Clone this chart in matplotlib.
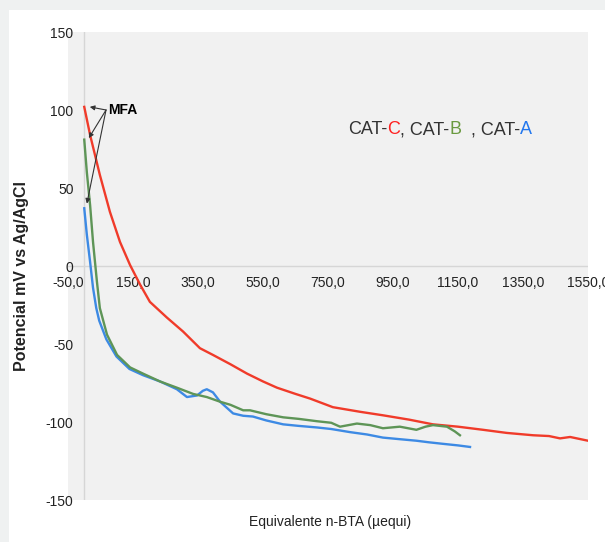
import numpy as np
import matplotlib.pyplot as plt
from matplotlib.patches import Rectangle
from matplotlib.offsetbox import TextArea, HPacker, AnnotationBbox

plt.rcParams['font.family'] = ['Liberation Sans', 'DejaVu Sans']

# CAT-C (red)
x_c = [0, 18, 48, 79, 110, 141, 172, 202, 254, 304, 356, 396, 450, 501, 550, 593, 650, 695,
       765, 850, 919, 1000, 1073, 1150, 1227, 1300, 1381, 1430, 1464, 1495, 1550]
y_c = [102, 84, 58.4, 34.7, 15.4, 0.6, -12, -23, -33, -42, -52.7, -57, -63, -69, -74, -78, -82, -85,
       -90.5, -93.5, -95.7, -98.5, -101.5, -103, -105, -107, -108.5, -109, -110.5, -109.6, -112]

# CAT-B (green)
x_b = [0, 8, 18, 27, 39, 48, 70, 101, 141, 181, 233, 285, 335, 377, 418, 450, 489, 510,
       560, 612, 660, 716, 760, 787, 839, 880, 919, 971, 1022, 1050, 1073, 1116, 1140, 1156]
y_b = [81, 60, 39, 15.4, -10, -27, -44, -57, -65, -69, -74, -78, -82, -84, -87, -89, -92.5, -92.5,
       -95, -97, -98, -99.5, -100.5, -103, -101, -102, -104, -103, -105, -103, -102, -103, -106, -108.5]

# CAT-A (blue)
x_a = [0, 8, 18, 27, 37, 46, 68, 99, 139, 181, 233, 285, 316, 347, 365, 377, 396, 418, 458, 489,
       519, 560, 612, 660, 716, 760, 818, 870, 919, 970, 1022, 1060, 1104, 1150, 1187]
y_a = [37, 20, 2.6, -14, -27, -35, -47, -58, -66, -70, -74, -79, -84, -83, -80, -79, -81, -87, -94.5, -96,
       -96.5, -99, -101.5, -102.5, -103.5, -104.5, -106.5, -108, -110, -111, -112, -113, -114, -115, -116]

xticks = np.arange(-50, 1551, 200)
yticks = np.arange(-150, 151, 50)

fig = plt.figure(figsize=(6.05, 5.42), dpi=100, facecolor='#eff1f1')
fig.patches.append(Rectangle((9 / 605, 0), 1, 1 - 10 / 542, transform=fig.transFigure,
                             facecolor='white', edgecolor='none', zorder=-10))

ax = fig.add_axes([68 / 605, 1 - 500 / 542, 520 / 605, 468 / 542])
ax.set_facecolor('#f1f1f1')

ax.plot(x_c, y_c, color='#f03b2a', lw=1.7, zorder=3)
ax.plot(x_b, y_b, color='#5e9557', lw=1.7, zorder=3)
ax.plot(x_a, y_a, color='#3d8ae4', lw=1.7, zorder=2)

ax.set_xlim(-50, 1550)
ax.set_ylim(-150, 150)
ax.axhline(0, color='#d6d6d6', lw=1, zorder=1)
ax.axvline(0, color='#d6d6d6', lw=1, zorder=1)

for s in ['top', 'right', 'left']:
    ax.spines[s].set_visible(False)
ax.spines['bottom'].set_position(('data', 0))
ax.spines['bottom'].set_visible(False)

ax.set_xticks(xticks)
ax.set_xticklabels([f"{v:.1f}".replace('.', ',') for v in xticks])
ax.set_yticks(yticks)
ax.set_yticklabels([str(v) for v in yticks])
ax.tick_params(axis='x', length=0, pad=7, labelsize=10, colors='#222222')
ax.tick_params(axis='y', length=0, pad=-4, labelsize=10, colors='#222222')

fig.text(22 / 605, 1 - 276 / 542, 'Potencial mV vs Ag/AgCl', rotation=90,
         ha='center', va='center', fontsize=11.5, fontweight='bold', color='#222222')
fig.text(330 / 605, 1 - 522 / 542, 'Equivalente n-BTA (µequi)',
         ha='center', va='center', fontsize=10, color='#222222')

# MFA annotation
ax.text(73, 100, 'MFA', fontsize=10, fontweight='bold', va='center', ha='left')
for hx, hy in [(17, 102), (14, 82), (8, 40)]:
    ax.annotate('', xy=(hx, hy), xytext=(67, 100),
                arrowprops=dict(arrowstyle='-|>', color='#333333', lw=0.8,
                                mutation_scale=7, shrinkA=0, shrinkB=0))

# legend-like coloured label
parts = [('CAT-', '#333333'), ('C', '#ff2020'), (', CAT-', '#333333'), ('B', '#6a9a40'),
         ('  , CAT-', '#333333'), ('A', '#2277ee')]
boxes = [TextArea(t, textprops=dict(color=c, fontsize=13)) for t, c in parts]
pack = HPacker(children=boxes, align='baseline', pad=0, sep=0)
ab = AnnotationBbox(pack, (440 / 605, 1 - 130 / 542), xycoords='figure fraction',
                    frameon=False, box_alignment=(0.5, 0.5))
fig.add_artist(ab)

fig.savefig('out.png', dpi=100)
